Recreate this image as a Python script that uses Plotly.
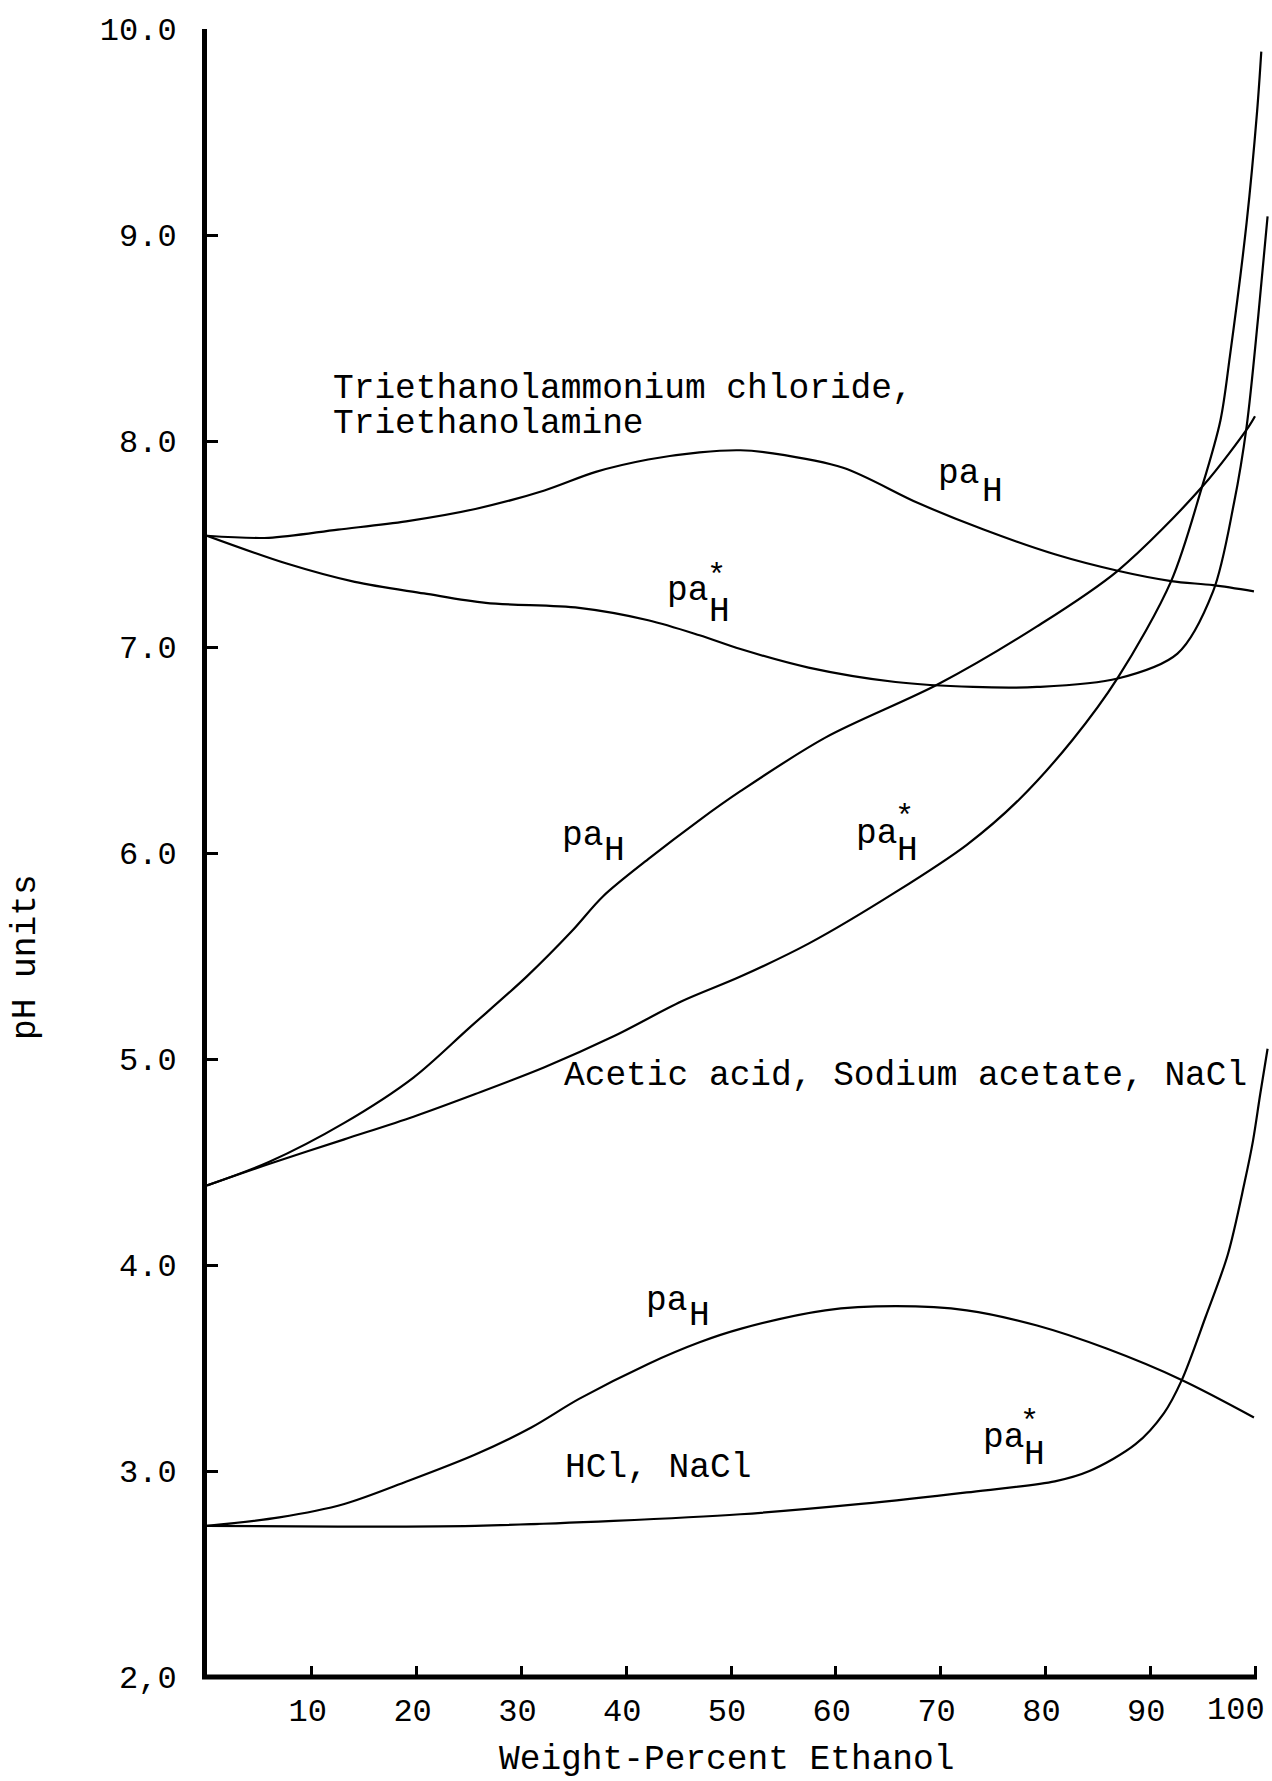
import plotly.graph_objects as go

# ---- data ----
tri_pah_x = [0, 5.9, 12.5, 19.0, 25.6, 32.2, 37.1, 42.1, 47.0, 50.9, 54.0, 60.7, 67.8, 74.1, 80.9, 86.9, 92.0, 96.0, 99.9]
tri_pah_y = [7.54, 7.53, 7.57, 7.61, 7.67, 7.76, 7.85, 7.91, 7.945, 7.955, 7.94, 7.87, 7.70, 7.57, 7.45, 7.37, 7.32, 7.30, 7.27]

tri_pahs_x = [0, 7.6, 14.1, 20.7, 26.6, 35.5, 42.1, 47.0, 50.9, 57.4, 65.7, 73.1, 79.2, 86.9, 92.6, 96.0, 98.0, 99.2, 100.3, 101.2]
tri_pahs_y = [7.54, 7.405, 7.316, 7.26, 7.214, 7.19, 7.13, 7.057, 6.99, 6.90, 6.83, 6.806, 6.806, 6.847, 6.968, 7.27, 7.70, 8.07, 8.60, 9.09]

ac_pah_x = [0, 5.9, 13.1, 19.7, 25.0, 30.5, 34.8, 37.8, 42.1, 47.0, 50.9, 59.0, 69.8, 79.2, 86.9, 95.0, 99.4, 100.0]
ac_pah_y = [4.386, 4.50, 4.69, 4.91, 5.15, 5.40, 5.62, 5.79, 5.97, 6.16, 6.30, 6.56, 6.82, 7.10, 7.37, 7.78, 8.07, 8.12]

ac_pahs_x = [0, 5.9, 13.1, 19.7, 25.6, 32.2, 38.8, 45.3, 50.9, 57.4, 65.7, 72.5, 77.5, 82.6, 86.9, 92.0, 94.9, 96.7, 97.6, 99.2, 100.2, 100.6]
ac_pahs_y = [4.386, 4.49, 4.61, 4.72, 4.83, 4.96, 5.11, 5.28, 5.40, 5.56, 5.81, 6.04, 6.26, 6.55, 6.85, 7.32, 7.77, 8.10, 8.41, 9.06, 9.60, 9.89]

hcl_pah_x = [0, 6.9, 13.1, 19.1, 25.6, 30.9, 35.5, 42.1, 47.0, 50.9, 59.0, 65.7, 72.5, 79.2, 85.9, 93.0, 99.9]
hcl_pah_y = [2.734, 2.775, 2.84, 2.95, 3.08, 3.21, 3.35, 3.52, 3.625, 3.69, 3.78, 3.80, 3.78, 3.706, 3.593, 3.442, 3.26]

hcl_pahs_x = [0, 12.5, 25.6, 38.8, 50.9, 62.4, 72.5, 80.9, 84.2, 88.6, 91.3, 93.0, 95.3, 97.4, 99.0, 99.8, 100.5, 101.2]
hcl_pahs_y = [2.734, 2.73, 2.734, 2.758, 2.79, 2.84, 2.896, 2.95, 3.00, 3.13, 3.28, 3.44, 3.75, 4.05, 4.40, 4.60, 4.83, 5.05]

x_tick_vals = [10, 20, 30, 40, 50, 60, 70, 80, 90, 100]
x_tick_text = ["10", "20", "30", "40", "50", "60", "70", "80", "90", ""]
x_last_label = "100"   # drawn separately so it is not dropped at the page edge
y_tick_vals = [2, 3, 4, 5, 6, 7, 8, 9, 10]
y_tick_text = ["2,0", "3.0", "4.0", "5.0", "6.0", "7.0", "8.0", "9.0", "10.0"]

x_title = "Weight-Percent Ethanol"
y_title = "pH units"

FONT = "Liberation Mono"
ASIZE = 34.5

fig = go.Figure()
for xs, ys in [(tri_pah_x, tri_pah_y), (tri_pahs_x, tri_pahs_y),
               (ac_pah_x, ac_pah_y), (ac_pahs_x, ac_pahs_y),
               (hcl_pah_x, hcl_pah_y), (hcl_pahs_x, hcl_pahs_y)]:
    fig.add_trace(go.Scatter(x=xs, y=ys, mode="lines",
                             line=dict(color="black", width=2.2, shape="spline", smoothing=0.9),
                             showlegend=False, hoverinfo="skip", cliponaxis=False))

ann = []
def txt(x, y, s, anchor="left", size=ASIZE):
    ann.append(dict(x=x, y=y, xref="x", yref="y", text=s, showarrow=False,
                    xanchor=anchor, yanchor="middle", font=dict(family=FONT, size=size, color="black")))

txt(11.83, 8.257, "Triethanolammonium chloride,")
txt(11.83, 8.087, "Triethanolamine")
txt(33.84, 4.922, "Acetic acid, Sodium acetate, NaCl")
txt(34.0, 3.015, "HCl, NaCl")

# pa_H labels: (pa x, pa y, H x, H y, star x, star y)
labels = [
    (69.6, 7.84, 73.75, 7.757, None, None),
    (43.69, 7.273, 47.7, 7.17, 48.6, 7.34),
    (33.66, 6.087, 37.7, 6.01, None, None),
    (61.72, 6.096, 65.68, 6.01, 66.55, 6.17),
    (41.72, 3.83, 45.76, 3.756, None, None),
    (73.82, 3.163, 77.77, 3.08, 78.5, 3.235),
]
for px, py, hx, hy, sx, sy in labels:
    txt(px, py, "pa")
    txt(hx, hy, "H")
    if sx is not None:
        txt(sx, sy, "*", anchor="center", size=32)

L, R, T, B = 207, 1270, 29, 1677
W, H = 1272, 1781
pw, ph = R - L, B - T

ann.append(dict(x=(25 - L) / pw, y=(B - 957) / ph, xref="paper", yref="paper", text=y_title,
                textangle=-90, showarrow=False, xanchor="center", yanchor="middle",
                font=dict(family=FONT, size=ASIZE, color="black")))
ann.append(dict(x=(726 - L) / pw, y=(B - 1760) / ph, xref="paper", yref="paper", text=x_title,
                showarrow=False, xanchor="center", yanchor="middle",
                font=dict(family=FONT, size=ASIZE, color="black")))
ann.append(dict(x=(1236 - L) / pw, y=(B - 1710) / ph, xref="paper", yref="paper", text=x_last_label,
                showarrow=False, xanchor="center", yanchor="middle",
                font=dict(family=FONT, size=32, color="black")))

fig.update_layout(
    width=W, height=H, autosize=False,
    margin=dict(l=L, r=W - R, t=T, b=H - B, pad=0),
    paper_bgcolor="white", plot_bgcolor="white",
    annotations=ann,
    shapes=[dict(type="line", xref="paper", yref="paper",
                 x0=-5 / pw, x1=(1257 - L) / pw, y0=0, y1=0,
                 line=dict(color="black", width=5))],
)
fig.update_xaxes(range=[0, (R - L) / 10.48], showgrid=False, zeroline=False, showline=False,
                 automargin=False,
                 tickmode="array", tickvals=x_tick_vals, ticktext=x_tick_text,
                 ticks="inside", ticklen=11, tickwidth=3, tickcolor="black",
                 ticklabelstandoff=11, ticklabelshift=-4,
                 tickfont=dict(family=FONT, size=32, color="black"))
fig.update_yaxes(range=[2, 10], showgrid=False, zeroline=False, showline=True,
                 automargin=False,
                 linecolor="black", linewidth=5,
                 tickmode="array", tickvals=y_tick_vals, ticktext=y_tick_text,
                 ticks="inside", ticklen=11, tickwidth=3, tickcolor="black",
                 ticklabelstandoff=19,
                 tickfont=dict(family=FONT, size=32, color="black"))

fig.write_html("out.html", config={"displayModeBar": False},
               post_script="document.body.style.margin='0';")
